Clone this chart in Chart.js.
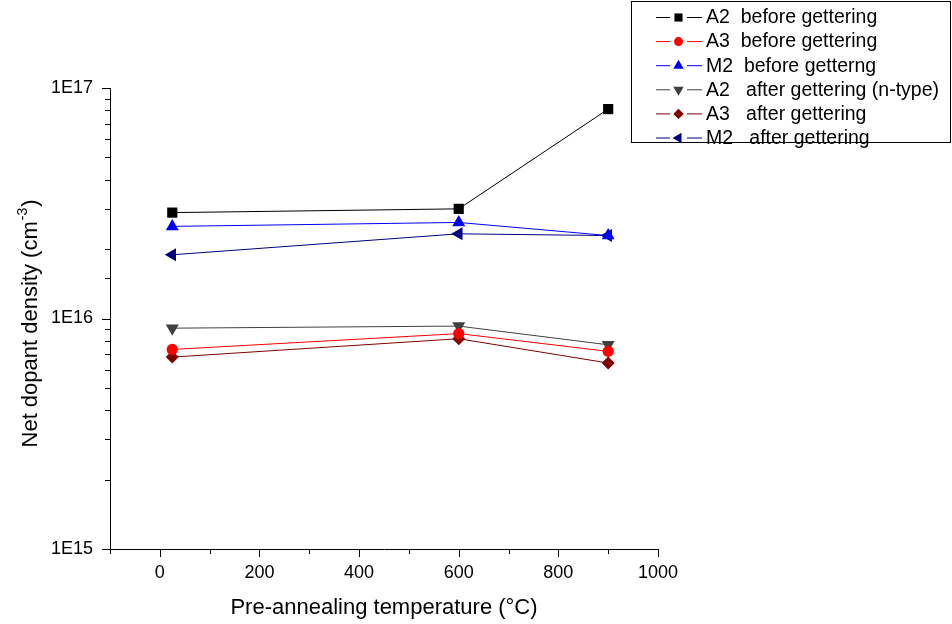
<!DOCTYPE html>
<html><head><meta charset="utf-8">
<script src="https://cdn.jsdelivr.net/npm/chart.js@4/dist/chart.umd.min.js"></script>
<style>html,body{margin:0;padding:0;background:#fff}#wrap{width:952px;height:624px;position:relative}</style>
</head><body><div id="wrap"><canvas id="c" width="952" height="624"></canvas></div>
<script>
// ---- data ----
const temperatures = [25, 600, 900];
const a2Before = [2.88e16, 2.99e16, 8.1e16];
const a3Before = [7.34e15, 8.6e15, 7.2e15];
const m2Before = [2.51e16, 2.61e16, 2.29e16];
const a2After  = [9.08e15, 9.27e15, 7.69e15];
const a3After  = [6.8e15, 8.17e15, 6.41e15];
const m2After  = [1.89e16, 2.33e16, 2.29e16];
const seriesLabels = ['A2  before gettering','A3  before gettering','M2  before getterng','A2   after gettering (n-type)','A3   after gettering','M2   after gettering'];
const xTickLabels = ['0','200','400','600','800','1000'];
const yTickLabels = ['1E15','1E16','1E17'];
const xTitle = 'Pre-annealing temperature (\u00B0C)';
const yTitleMain = 'Net dopant density (cm';
const yTitleSup = '-3';
const yTitleEnd = ')';

const FONT = '"Liberation Sans", Arial, sans-serif';

function pts(vals){ return temperatures.map((t,i)=>({x:t,y:vals[i]})); }
function ds(label, vals, line, fill, style, radius, rot){
  return {label, data:pts(vals), borderColor:line, backgroundColor:fill, borderWidth:1,
    pointStyle:style, pointRadius:radius, pointHoverRadius:radius, pointRotation:rot,
    pointBackgroundColor:fill, pointBorderColor:fill, pointBorderWidth:0, tension:0, fill:false};
}
const datasets = [
  ds(seriesLabels[0], a2Before, '#000000', '#000000', 'rect', 7.2, 0),
  ds(seriesLabels[1], a3Before, '#ff0000', '#ff0000', 'circle', 5.6, 0),
  ds(seriesLabels[2], m2Before, '#0000ff', '#0000ff', 'triangle', 7.5, 0),
  ds(seriesLabels[3], a2After,  '#404040', '#404040', 'triangle', 7.5, 180),
  ds(seriesLabels[4], a3After,  '#800000', '#800000', 'rectRot', 6.5, 0),
  ds(seriesLabels[5], m2After,  '#000080', '#000080', 'triangle', 7.5, 270)
];

const tickPlugin = {
  id:'tickMarks',
  afterDraw(chart){
    const ctx = chart.ctx, xs = chart.scales.x, ys = chart.scales.y;
    ctx.save();
    ctx.strokeStyle = '#000'; ctx.lineWidth = 1;
    ctx.beginPath();
    xs.ticks.forEach(t=>{
      const px = Math.round(xs.getPixelForValue(t.value)) + 0.5;
      const major = Math.round(t.value) % 200 === 0;
      ctx.moveTo(px, ys.bottom); ctx.lineTo(px, ys.bottom + (major ? 8 : 5));
    });
    ys.ticks.forEach(t=>{
      const py = Math.round(ys.getPixelForValue(t.value)) + 0.5;
      const l = Math.log10(t.value);
      const major = Math.abs(l - Math.round(l)) < 1e-6;
      ctx.moveTo(xs.left, py); ctx.lineTo(xs.left - (major ? 8 : 5), py);
    });
    ctx.stroke();

    // axis titles
    ctx.fillStyle = '#000';
    ctx.font = '22px ' + FONT;
    ctx.textAlign = 'center'; ctx.textBaseline = 'alphabetic';
    ctx.fillText(xTitle, (xs.left + xs.right)/2, 614);

    ctx.translate(37, (ys.top + ys.bottom)/2 + 6);
    ctx.rotate(-Math.PI/2);
    ctx.textAlign = 'left';
    ctx.font = '22px ' + FONT;
    const w1 = ctx.measureText(yTitleMain).width;
    ctx.font = '14px ' + FONT;
    const w2 = ctx.measureText(yTitleSup).width;
    ctx.font = '22px ' + FONT;
    const w3 = ctx.measureText(yTitleEnd).width;
    let x0 = -(w1 + w2 + w3)/2;
    ctx.fillText(yTitleMain, x0, 0);
    ctx.font = '14px ' + FONT;
    ctx.fillText(yTitleSup, x0 + w1 + 1, -10);
    ctx.font = '22px ' + FONT;
    ctx.fillText(yTitleEnd, x0 + w1 + w2 + 2, 0);
    ctx.restore();
  }
};

const legendPlugin = {
  id:'boxLegend',
  afterDraw(chart){
    const ctx = chart.ctx;
    ctx.save();
    ctx.strokeStyle = '#000'; ctx.lineWidth = 1;
    ctx.strokeRect(631.5, 1.5, 319, 141);
    chart.data.datasets.forEach((d,i)=>{
      const y = 17 + i*24.1;
      ctx.strokeStyle = d.borderColor; ctx.lineWidth = 1;
      ctx.beginPath();
      ctx.moveTo(656, y + 0.5); ctx.lineTo(670, y + 0.5);
      ctx.moveTo(687, y + 0.5); ctx.lineTo(702, y + 0.5);
      ctx.stroke();
      ctx.fillStyle = d.pointBackgroundColor; ctx.strokeStyle = d.pointBorderColor;
      Chart.helpers.drawPoint(ctx, {pointStyle:d.pointStyle, radius:d.pointRadius*0.8, rotation:d.pointRotation, borderWidth:0}, 678.5, y + 0.5);
      ctx.fillStyle = '#000';
      ctx.font = '19.5px ' + FONT;
      ctx.textAlign = 'left'; ctx.textBaseline = 'middle';
      ctx.fillText(d.label, 706, y + 1);
    });
    ctx.restore();
  }
};

new Chart(document.getElementById('c'), {
  type:'line',
  data:{ datasets },
  options:{
    responsive:false, animation:false, devicePixelRatio:1,
    layout:{ padding:{ top:88, right:294, left:0, bottom:0 } },
    plugins:{ legend:{display:false}, tooltip:{enabled:false} },
    scales:{
      x:{ type:'linear', min:-100, max:1000,
        afterFit(s){ s.height = 75; },
        grid:{ display:true, drawOnChartArea:false, drawTicks:true, tickLength:8, color:'rgba(0,0,0,0)' },
        border:{ display:true, color:'#000', width:1 },
        ticks:{ stepSize:100, autoSkip:false, maxRotation:0, color:'#000', padding:5,
          font:{ family:FONT, size:18 },
          callback(v){ const i = xTickLabels.indexOf(String(v)); return i >= 0 ? xTickLabels[i] : ''; } }
      },
      y:{ type:'logarithmic', min:1e15, max:1e17,
        afterFit(s){ s.width = 110; },
        grid:{ display:true, drawOnChartArea:false, drawTicks:true, tickLength:8, color:'rgba(0,0,0,0)' },
        border:{ display:true, color:'#000', width:1 },
        ticks:{ autoSkip:false, color:'#000', padding:9,
          font:{ family:FONT, size:18 },
          callback(v){ const l = Math.log10(v); const r = Math.round(l);
            return Math.abs(l - r) < 1e-6 ? yTickLabels[r - 15] : ''; } }
      }
    }
  },
  plugins:[tickPlugin, legendPlugin]
});
</script></body></html>
